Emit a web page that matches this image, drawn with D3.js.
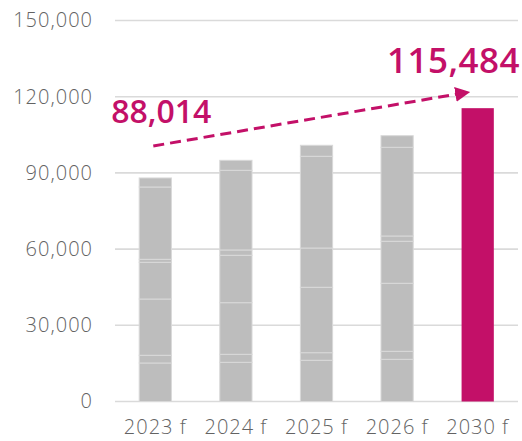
<!DOCTYPE html>
<html>
<head>
<meta charset="utf-8">
<script src="https://cdn.jsdelivr.net/npm/d3@7"></script>
<style>
  html, body { margin: 0; padding: 0; background: #fff; }
  svg { display: block; }
  text { font-family: "Open Sans", "Noto Sans", sans-serif; }
</style>
</head>
<body>
<svg id="chart" width="522" height="441"></svg>
<script>
// Forecast years
const years = ["2023 f", "2024 f", "2025 f", "2026 f", "2030 f"];
const stackedYears = ["2023 f", "2024 f", "2025 f", "2026 f"];

// Component segments of the grey bars (bottom to top), one array per segment
const seg1 = [15160, 15430, 16220, 16610];
const seg2 = [3030, 3150, 2990, 3150];
const seg3 = [22160, 20320, 25750, 26780];
const seg4 = [14450, 18660, 15470, 16530];
const seg5 = [1180, 2090, 0, 2090];
const seg6 = [28470, 31370, 36110, 34920];
const seg7 = [3564, 3940, 4330, 4570];
const segments = [seg1, seg2, seg3, seg4, seg5, seg6, seg7];

// Highlighted target year
const highlightYear = "2030 f";
const highlightValue = 115484;

// Callouts
const startLabel = 88014;
const endLabel = 115484;

// Axis ticks
const yTicks = [0, 30000, 60000, 90000, 120000, 150000];

const svg = d3.select("#chart");
const margin = { left: 115, right: 4, top: 20.5, bottom: 39.5 };
const W = 522, H = 441;

const x = d3.scaleBand().domain(years)
  .range([margin.left, W - margin.right])
  .paddingInner(0.6).paddingOuter(0.3);
const y = d3.scaleLinear().domain([0, 150000]).range([H - margin.bottom, margin.top]);

const fmt = d3.format(",");
const grey = "#bdbdbd";
const magenta = "#c31068";
const labelFont = "'Open Sans', 'Noto Sans', sans-serif";

// Gridlines
svg.append("g")
  .selectAll("line").data(yTicks).join("line")
  .attr("x1", margin.left).attr("x2", W - margin.right)
  .attr("y1", d => y(d)).attr("y2", d => y(d))
  .attr("stroke", "#dadada").attr("stroke-width", 1.6);

// Y axis labels
const yAxis = d3.axisLeft(y).tickValues(yTicks).tickFormat(fmt).tickSize(0).tickPadding(22);
svg.append("g").attr("transform", `translate(${margin.left},0)`).call(yAxis)
  .call(g => g.select(".domain").remove())
  .call(g => g.selectAll("text")
    .attr("fill", "#636363").attr("font-size", 20).attr("font-weight", 300)
    .attr("letter-spacing", 1).attr("font-family", labelFont));

// X axis labels
const xAxis = d3.axisBottom(x).tickSize(0).tickPadding(18);
svg.append("g").attr("transform", `translate(0,${y(0)})`).call(xAxis)
  .call(g => g.select(".domain").remove())
  .call(g => g.selectAll("text")
    .attr("fill", "#636363").attr("font-size", 20).attr("font-weight", 300)
    .attr("letter-spacing", 1).attr("font-family", labelFont));

// Stacked grey bars
const rows = stackedYears.map((yr, i) => {
  const r = { year: yr };
  segments.forEach((s, k) => { r["s" + k] = s[i]; });
  return r;
});
const keys = segments.map((s, k) => "s" + k);
const stacked = d3.stack().keys(keys)(rows);

svg.append("g")
  .selectAll("g").data(stacked).join("g")
  .selectAll("rect").data(d => d).join("rect")
  .attr("x", d => x(d.data.year))
  .attr("width", x.bandwidth())
  .attr("y", d => y(d[1]))
  .attr("height", d => y(d[0]) - y(d[1]))
  .attr("fill", grey)
  .attr("stroke", "#d9d9d9").attr("stroke-width", 1);

// Highlighted bar
svg.append("rect")
  .attr("x", x(highlightYear))
  .attr("width", x.bandwidth())
  .attr("y", y(highlightValue))
  .attr("height", y(0) - y(highlightValue))
  .attr("fill", magenta);

// Growth arrow
const defs = svg.append("defs");
defs.append("marker")
  .attr("id", "head").attr("viewBox", "0 0 10 10")
  .attr("refX", 9).attr("refY", 5)
  .attr("markerWidth", 5).attr("markerHeight", 5)
  .attr("markerUnits", "strokeWidth")
  .attr("orient", "auto")
  .append("path").attr("d", "M0,0 L10,5 L0,10 Z").attr("fill", magenta);

const ax1 = x("2023 f") + x.bandwidth() / 2 - 2;
const ay1 = y(100600);
const ax2 = x(highlightYear) + x.bandwidth() / 2 - 9;
const ay2 = y(121800);
svg.append("line")
  .attr("x1", ax1).attr("y1", ay1).attr("x2", ax2).attr("y2", ay2)
  .attr("stroke", magenta).attr("stroke-width", 3)
  .attr("stroke-dasharray", "11,6")
  .attr("marker-end", "url(#head)");

// Value callouts
svg.append("text")
  .attr("x", x("2023 f") - 28).attr("y", y(109500))
  .attr("fill", magenta).attr("font-size", 32).attr("font-weight", 600)
  .text(fmt(startLabel));

svg.append("text")
  .attr("x", W - 2).attr("y", y(129500))
  .attr("text-anchor", "end")
  .attr("fill", magenta).attr("font-size", 35).attr("font-weight", 600).attr("letter-spacing", 0.5)
  .text(fmt(endLabel));
</script>
</body>
</html>
